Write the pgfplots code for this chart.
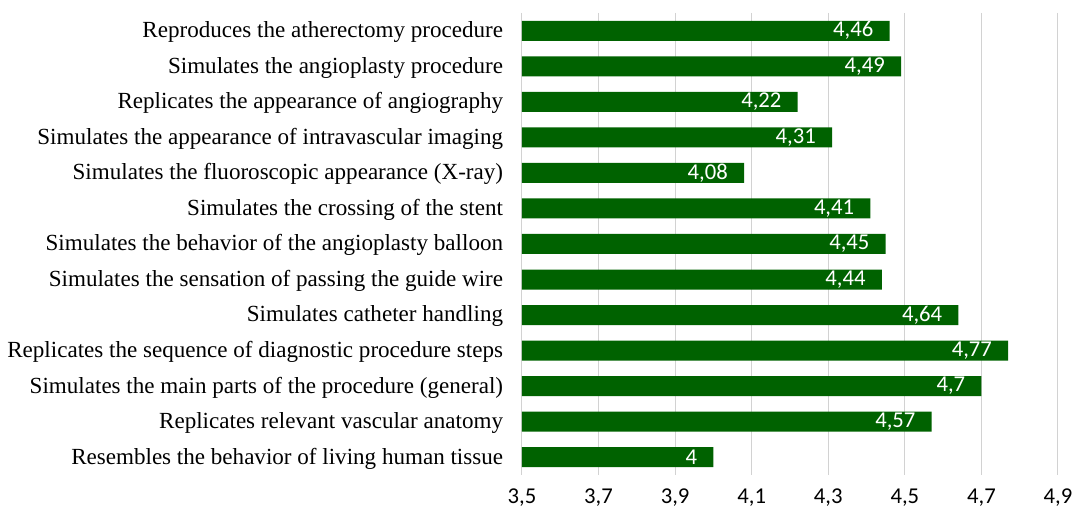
\documentclass[border=0pt]{standalone}
\usepackage{pgfplots}
\pgfplotsset{compat=1.18}
\usepackage{fontspec}
\setmainfont{Liberation Serif}
\setsansfont{Carlito}
\definecolor{barg}{RGB}{0,98,0}
\definecolor{gridc}{RGB}{210,210,210}
\begin{document}
\begin{tikzpicture}
\path[use as bounding box] (-391.5pt,-28.5pt) rectangle (412.5pt,356.25pt);
\begin{axis}[
  at={(0,0)}, anchor=south west,
  scale only axis, width=402pt, height=346.5pt,
  xmin=3.5, xmax=4.9, ymin=0.5, ymax=13.5, y dir=reverse,
  xbar, bar width=15pt,
  xtick={3.5,3.7,3.9,4.1,4.3,4.5,4.7,4.9},
  xticklabels={{3,5},{3,7},{3,9},{4,1},{4,3},{4,5},{4,7},{4,9}},
  ytick={1,...,13},
  yticklabels={
    Reproduces the atherectomy procedure,
    Simulates the angioplasty procedure,
    Replicates the appearance of angiography,
    Simulates the appearance of intravascular imaging,
    Simulates the fluoroscopic appearance (X-ray),
    Simulates the crossing of the stent,
    Simulates the behavior of the angioplasty balloon,
    Simulates the sensation of passing the guide wire,
    Simulates catheter handling,
    Replicates the sequence of diagnostic procedure steps,
    Simulates the main parts of the procedure (general),
    Replicates relevant vascular anatomy,
    Resembles the behavior of living human tissue},
  xmajorgrids, grid style={gridc, line width=0.75pt},
  axis line style={draw=none}, major tick length=0pt,
  xticklabel style={font=\sffamily\fontsize{17}{19}\selectfont, anchor=north, inner sep=0pt, yshift=-10.5pt},
  yticklabel style={font=\fontsize{17.3}{19}\selectfont, anchor=east, inner sep=0pt, xshift=-14pt, yshift=-1pt},
  point meta=explicit symbolic,
  nodes near coords,
  nodes near coords align={horizontal},
  every node near coord/.append style={anchor=east, inner sep=0pt, xshift=-12pt, text=white, font=\sffamily\fontsize{17}{19}\selectfont},
  clip=false,
]
\addplot[fill=barg, draw=none] coordinates {
  (4.46,1) [4,46]
  (4.49,2) [4,49]
  (4.22,3) [4,22]
  (4.31,4) [4,31]
  (4.08,5) [4,08]
  (4.41,6) [4,41]
  (4.45,7) [4,45]
  (4.44,8) [4,44]
  (4.64,9) [4,64]
  (4.77,10) [4,77]
  (4.70,11) [4,7]
  (4.57,12) [4,57]
  (4.00,13) [4]
};
\end{axis}
\end{tikzpicture}
\end{document}
